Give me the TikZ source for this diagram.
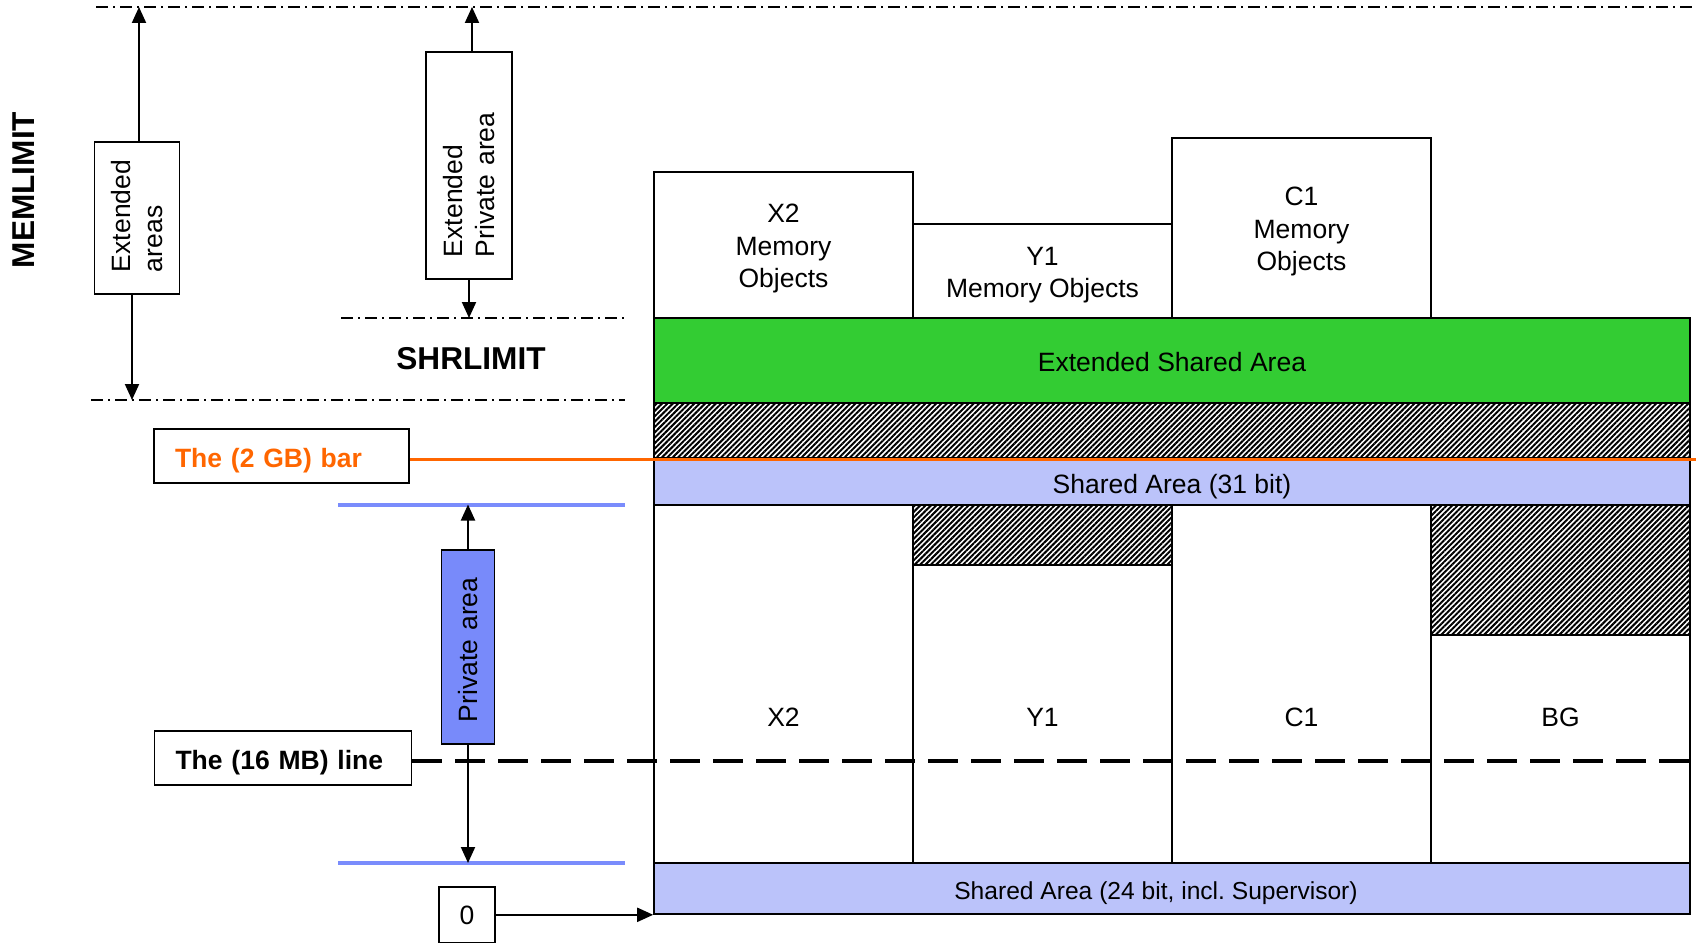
\documentclass[tikz,border=0pt]{standalone}
\usepackage{fontspec}
\setmainfont{Liberation Sans}
\usepackage{tikz}
\usetikzlibrary{positioning,arrows.meta,patterns.meta}
\usepackage{xcolor}

\definecolor{shgreen}{RGB}{51,204,51}
\definecolor{shblue}{RGB}{187,195,250}
\definecolor{privblue}{RGB}{120,138,250}
\definecolor{lineblue}{RGB}{122,140,252}
\definecolor{gborange}{RGB}{255,102,0}

\newcommand\bodyfont{\fontsize{26.5pt}{32.5pt}\selectfont}
\newcommand\bigbold{\fontsize{31.6pt}{36pt}\selectfont\bfseries}
\newcommand\topstrut{\rule{0pt}{26pt}}

\tikzset{
  area/.style={draw,line width=1.6pt,inner sep=0pt},
  lowtext/.style={text height=28pt,text depth=6pt},
  hatched/.style={area,pattern={Lines[angle=45,distance=3.8pt,line width=2pt]}},
  limitline/.style={line width=1.6pt,dash pattern=on 12pt off 5pt on 2pt off 5pt},
  pvline/.style={lineblue,line width=4pt},
  vtag/.style={draw,line width=1.6pt,rotate=90,align=left,inner xsep=22pt,inner ysep=0pt},
  tag/.style={draw,line width=1.6pt,align=left,inner xsep=21pt,minimum height=54pt},
  arrowline/.style={->,line width=2pt},
}

\begin{document}
\begin{tikzpicture}[x=1pt,y=-1pt,>={Triangle[length=16pt,width=14pt]},font=\bodyfont]
\useasboundingbox (0,0) rectangle (1696,942);

% limit lines
\coordinate (memtop) at (96,7);
\coordinate (memtopR) at (1696,7);
\coordinate (shrup) at (341,318);
\coordinate (shrupR) at (626,318);
\coordinate (shrlow) at (91,400);
\coordinate (shrlowR) at (625,400);
\coordinate (pvtop) at (338,504.5);
\coordinate (pvtopR) at (625,504.5);
\coordinate (pvbot) at (338,863);
\coordinate (pvbotR) at (625,863);
\coordinate (barend) at (1696,459);
\coordinate (dashend) at (1690,761);
\draw[limitline] (memtop) -- (memtopR);
\draw[limitline] (shrup) -- (shrupR);
\draw[limitline] (shrlow) -- (shrlowR);
\draw[pvline] (pvtop) -- (pvtopR);
\draw[pvline] (pvbot) -- (pvbotR);

% shared areas
\node[hatched,minimum width=1036pt,minimum height=55pt] (hatchtop) at (1172,430.5) {};
\node[area,lowtext,fill=shgreen,minimum width=1036pt,minimum height=85pt] (esa) at (1172,360.5) {Extended Shared Area};
\node[area,lowtext,fill=shblue,minimum width=1036pt,minimum height=46pt] (sh31) at (1172,482) {Shared Area (31 bit)};
\node[area,lowtext,fill=shblue,minimum width=1036pt,minimum height=51pt,font=\fontsize{24.6pt}{30pt}\selectfont] (sh24) at (1172,888.5) {Shared Area (24 bit, incl.\ Supervisor)\rule{32pt}{0pt}};

% memory objects
\node[area,minimum width=259pt,minimum height=146pt,align=center] (mox2) at (783.5,245) {\topstrut X2\\Memory\\Objects};
\node[area,minimum width=259pt,minimum height=94pt,align=center] (moy1) at (1042.5,271) {\topstrut Y1\\Memory Objects};
\node[area,minimum width=259pt,minimum height=180pt,align=center] (moc1) at (1301.5,228) {\topstrut C1\\Memory\\Objects};

% address spaces
\foreach \n/\x/\t in {x2/783.5/X2,y1/1042.5/Y1,c1/1301.5/C1,bg/1560.5/BG}{
  \node[area,minimum width=259pt,minimum height=358pt] (col\n) at (\x,684) {};
  \node (lbl\n) at (\x,717) {\t};
}
\node[hatched,minimum width=259pt,minimum height=60pt] (hy1) at (1042.5,535) {};
\node[hatched,minimum width=259pt,minimum height=130pt] (hbg) at (1560.5,570) {};

% left side labels
\node[font=\bigbold,rotate=90] (memlimit) at (24,190) {MEMLIMIT};
\node[vtag,text width=108pt,minimum height=85pt] (extareas) at (137,218) {Extended\\areas};
\node[vtag,text width=183pt,minimum height=86pt] (extpriv) at (469,165.5) {Extended\\Private area};
\node[font=\bigbold] (shrlimit) at (471,359) {SHRLIMIT};
\node[vtag,fill=privblue,text width=150pt,minimum height=53pt] (private) at (468,647) {Private area};
\node[tag,lowtext,text width=213pt,text=gborange,font=\bodyfont\bfseries] (bar) at (281.5,456) {The (2 GB) bar};
\node[tag,lowtext,text width=215pt,font=\bodyfont\bfseries] (line) at (283,758) {The (16 MB) line};
\node[tag,minimum width=56pt,minimum height=56pt,inner xsep=0pt] (zero) at (467,915) {0};

% the lines
\draw[gborange,line width=3pt] (bar.east |- barend) -- (barend);
\draw[line width=3.5pt,dash pattern=on 30pt off 13pt] (line.east |- dashend) -- (dashend);

% arrows
\draw[arrowline] ([xshift=2pt]extareas.east) -- ([xshift=2pt]extareas.east |- memtop);
\draw[arrowline] ([xshift=-5pt]extareas.west) -- ([xshift=-5pt]extareas.west |- shrlow);
\draw[arrowline] ([xshift=3pt]extpriv.east) -- ([xshift=3pt]extpriv.east |- memtop);
\draw[arrowline] (extpriv.west) -- (extpriv.west |- shrup);
\draw[arrowline] (private.east) -- (private.east |- pvtop);
\draw[arrowline] (private.west) -- (private.west |- pvbot);
\draw[arrowline] (zero.east |- sh24.south west) -- (sh24.south west);
\end{tikzpicture}
\end{document}
